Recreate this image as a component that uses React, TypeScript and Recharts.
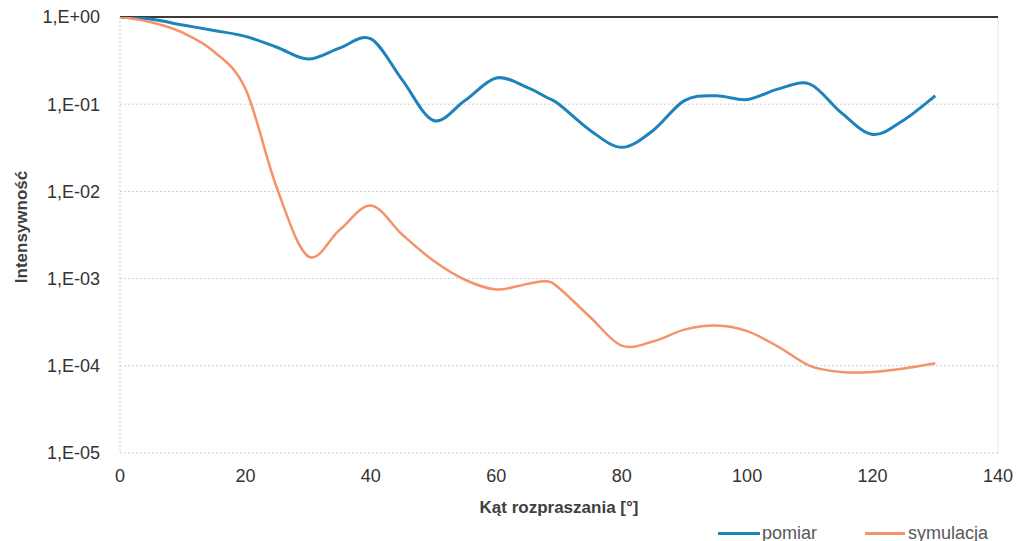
import React from 'react';
import { LineChart, Line, XAxis, YAxis, CartesianGrid, ReferenceLine } from 'recharts';

// scattering angle [deg]
const angles = [0, 5, 10, 15, 20, 25, 30, 35, 40, 45, 50, 55, 60, 65, 68, 70, 75, 80, 85, 90, 95, 100, 105, 110, 115, 120, 125, 130];

const pomiar = [
  1.0, 0.94, 0.81, 0.7, 0.6, 0.45, 0.33, 0.44, 0.56, 0.19, 0.065, 0.11, 0.2, 0.155, 0.12, 0.1, 0.05, 0.032, 0.05, 0.11,
  0.125, 0.113, 0.15, 0.17, 0.08, 0.045, 0.066, 0.125,
];

const symulacja = [
  1.0, 0.87, 0.66, 0.4, 0.15, 0.011, 0.0018, 0.0036, 0.0069, 0.0032, 0.0016, 0.00097, 0.00075, 0.00087, 0.00093, 0.00078,
  0.00036, 0.00017, 0.00019, 0.00026, 0.00029, 0.00025, 0.000165, 0.0001, 0.000085, 0.000085, 0.000093, 0.000107,
];

const yTicks = [1e-5, 1e-4, 1e-3, 1e-2, 1e-1, 1];
const xTicks = [0, 20, 40, 60, 80, 100, 120, 140];

const data = angles.map((a, i) => ({ angle: a, pomiar: pomiar[i], symulacja: symulacja[i] }));

const FONT = '"Liberation Sans", Arial, sans-serif';
const BLUE = '#1f83bb';
const ORANGE = '#f4936a';

// Excel-like smoothed line (uniform Catmull-Rom through the points)
const catmullRom = (ctx: any) => {
  let pts: [number, number][] = [];
  return {
    areaStart() {},
    areaEnd() {},
    lineStart() {
      pts = [];
    },
    point(x: number, y: number) {
      pts.push([+x, +y]);
    },
    lineEnd() {
      if (!pts.length) return;
      ctx.moveTo(pts[0][0], pts[0][1]);
      for (let i = 0; i < pts.length - 1; i++) {
        const p0 = pts[Math.max(0, i - 1)];
        const p1 = pts[i];
        const p2 = pts[i + 1];
        const p3 = pts[Math.min(pts.length - 1, i + 2)];
        ctx.bezierCurveTo(
          p1[0] + (p2[0] - p0[0]) / 6,
          p1[1] + (p2[1] - p0[1]) / 6,
          p2[0] - (p3[0] - p1[0]) / 6,
          p2[1] - (p3[1] - p1[1]) / 6,
          p2[0],
          p2[1]
        );
      }
    },
  };
};

const fmtExp = (v: number) => {
  const e = Math.round(Math.log10(v));
  const sign = e < 0 ? '-' : '+';
  return `1,E${sign}${String(Math.abs(e)).padStart(2, '0')}`;
};

const yTitle = () => (
  <text
    x={21}
    y={227}
    transform="rotate(-90 21 227)"
    textAnchor="middle"
    dominantBaseline="central"
    fill="#404040"
    fontSize={17}
    fontWeight="bold"
    fontFamily={FONT}
  >
    Intensywność
  </text>
);

export default function App() {
  return (
    <div style={{ position: 'absolute', left: 0, top: 0, width: 1021, height: 541, background: '#fff' }}>
      <LineChart width={1021} height={541} data={data} margin={{ top: 17, right: 23, bottom: 28, left: 0 }}>
        <CartesianGrid stroke="#cfcfcf" strokeDasharray="2 2" vertical={false} />
        <XAxis
          dataKey="angle"
          type="number"
          domain={[0, 140]}
          ticks={xTicks}
          height={60}
          axisLine={false}
          tickLine={false}
          tickSize={0}
          tickMargin={16}
          tick={{ fill: '#333', fontSize: 18, fontFamily: FONT }}
          label={{
            value: 'Kąt rozpraszania [°]',
            position: 'insideBottom',
            offset: 0,
            fill: '#404040',
            fontSize: 17,
            fontWeight: 'bold',
            fontFamily: FONT,
          }}
        />
        <YAxis
          scale="log"
          domain={[1e-5, 1]}
          ticks={yTicks}
          allowDataOverflow
          width={120}
          axisLine={{ stroke: '#cfcfcf', strokeDasharray: '2 2' }}
          tickLine={false}
          tickSize={0}
          tickMargin={20}
          tickFormatter={fmtExp}
          tick={{ fill: '#333', fontSize: 18, fontFamily: FONT }}
          label={{ content: yTitle }}
        />
        <ReferenceLine x={140} stroke="#e6e6e6" />
        <ReferenceLine y={1} stroke="#3a3a3a" strokeWidth={2} />
        <Line
          type={catmullRom as any}
          dataKey="pomiar"
          stroke={BLUE}
          strokeWidth={3}
          dot={false}
          isAnimationActive={false}
        />
        <Line
          type={catmullRom as any}
          dataKey="symulacja"
          stroke={ORANGE}
          strokeWidth={2.5}
          dot={false}
          isAnimationActive={false}
        />
      </LineChart>
      <div
        style={{
          position: 'absolute',
          left: 718,
          top: 522,
          display: 'flex',
          alignItems: 'center',
          fontFamily: FONT,
          fontSize: 18,
          color: '#595959',
          lineHeight: '22px',
        }}
      >
        <div style={{ width: 42, height: 3, background: BLUE, marginRight: 2 }} />
        <span style={{ marginRight: 48 }}>pomiar</span>
        <div style={{ width: 40, height: 3, background: ORANGE, marginRight: 3 }} />
        <span>symulacja</span>
      </div>
    </div>
  );
}
